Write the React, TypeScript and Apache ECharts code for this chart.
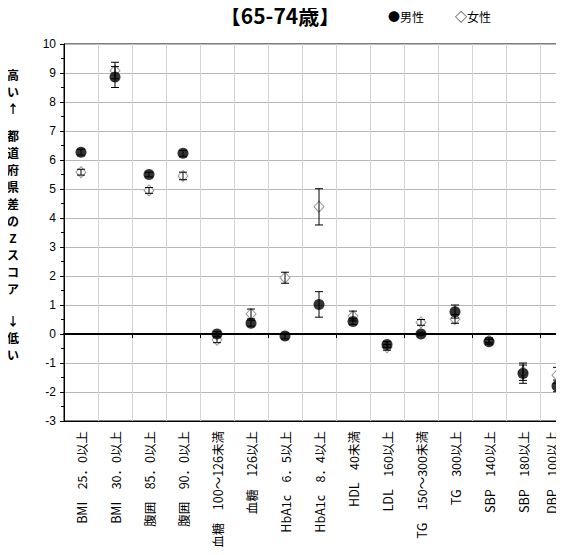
import React, { useEffect, useRef } from "react";
import * as echarts from "echarts";

const categories = [
  "BMI　25．0以上",
  "BMI　30．0以上",
  "腹囲　85．0以上",
  "腹囲　90．0以上",
  "血糖　100～126未満",
  "血糖　126以上",
  "HbA1c　6．5以上",
  "HbA1c　8．4以上",
  "HDL　40未満",
  "LDL　160以上",
  "TG　150～300未満",
  "TG　300以上",
  "SBP　140以上",
  "SBP　180以上",
  "DBP　100以上",
];

const maleValues = [6.27, 8.86, 5.5, 6.23, 0.0, 0.37, -0.07, 1.02, 0.43, -0.36, 0.0, 0.77, -0.27, -1.36, -1.79];
const maleLow = [6.17, 8.5, 5.42, 6.13, -0.08, 0.27, -0.17, 0.58, 0.33, -0.46, -0.06, 0.55, -0.35, -1.7, -1.99];
const maleHigh = [6.37, 9.22, 5.58, 6.33, 0.08, 0.47, 0.03, 1.46, 0.53, -0.26, 0.06, 1.0, -0.19, -1.07, -1.59];

const femaleValues = [5.58, 9.08, 4.95, 5.45, -0.2, 0.69, 1.94, 4.39, 0.62, -0.46, 0.4, 0.52, -0.22, -1.3, -1.42];
const femaleLow = [5.48, 8.8, 4.85, 5.32, -0.3, 0.52, 1.75, 3.76, 0.45, -0.56, 0.3, 0.37, -0.3, -1.6, -1.7];
const femaleHigh = [5.68, 9.37, 5.05, 5.58, -0.1, 0.86, 2.13, 5.01, 0.79, -0.36, 0.5, 0.67, -0.14, -1.0, -1.15];

const yMin = -3;
const yMax = 10;

const titleText = "【65-74歳】";
const maleLegend = "●男性";
const femaleLegend = "◇女性";
const yNameTop = "高\nい\n↑";
const yNameMid = "都\n道\n府\n県\n差\nの\nZ\nス\nコ\nア";
const yNameBottom = "↓\n低\nい";

const errorRender = (params: any, api: any) => {
  const x = api.value(0);
  const lo = api.coord([x, api.value(1)]);
  const hi = api.coord([x, api.value(2)]);
  const cap = 4;
  const style = { stroke: "#000", lineWidth: 1 };
  return {
    type: "group",
    children: [
      { type: "line", shape: { x1: lo[0], y1: lo[1], x2: hi[0], y2: hi[1] }, style },
      { type: "line", shape: { x1: lo[0] - cap, y1: lo[1], x2: lo[0] + cap, y2: lo[1] }, style },
      { type: "line", shape: { x1: hi[0] - cap, y1: hi[1], x2: hi[0] + cap, y2: hi[1] }, style },
    ],
  };
};

export default function App() {
  const ref = useRef<HTMLDivElement>(null);
  useEffect(() => {
    if (!ref.current) return;
    const chart = echarts.init(ref.current, null, { renderer: "svg" });
    const cjk = "'Noto Sans CJK JP', sans-serif";
    const lastIdx = categories.length - 1;
    const catData = categories.map((c, i) =>
      i === lastIdx ? { value: c, textStyle: { verticalAlign: "bottom" } } : c
    );
    chart.setOption({
      animation: false,
      backgroundColor: "#fff",
      grid: {
        left: 64,
        top: 44,
        width: 510,
        height: 377,
        outerBoundsMode: "none",
        containLabel: false,
        show: true,
        borderColor: "#000",
        borderWidth: 1,
        backgroundColor: "transparent",
      },
      graphic: [
        {
          type: "text",
          x: 280,
          y: 15,
          style: {
            text: titleText,
            font: "bold 21px " + cjk,
            fill: "#000",
            textAlign: "center",
            textVerticalAlign: "middle",
          },
        },
        {
          type: "text",
          x: 388,
          y: 16,
          style: { text: maleLegend, font: "12px " + cjk, fill: "#000", textVerticalAlign: "middle" },
        },
        {
          type: "text",
          x: 455,
          y: 16,
          style: { text: femaleLegend, font: "12px " + cjk, fill: "#000", textVerticalAlign: "middle" },
        },
        {
          type: "text",
          x: 13,
          y: 66,
          style: { text: yNameTop, font: "bold 12px " + cjk, lineHeight: 17, fill: "#000", textAlign: "center" },
        },
        {
          type: "text",
          x: 13,
          y: 127,
          style: { text: yNameMid, font: "bold 12px " + cjk, lineHeight: 17, fill: "#000", textAlign: "center" },
        },
        {
          type: "text",
          x: 13,
          y: 312,
          style: { text: yNameBottom, font: "bold 12px " + cjk, lineHeight: 17, fill: "#000", textAlign: "center" },
        },
      ],
      xAxis: [
        {
          type: "category",
          data: catData,
          position: "bottom",
          axisLine: { onZero: false, lineStyle: { color: "#000", width: 1 } },
          axisTick: { show: false },
          axisLabel: {
            interval: 0,
            rotate: 90,
            margin: 10,
            fontSize: 12.5,
            lineHeight: 12,
            fontFamily: cjk,
            color: "#000",
          },
          splitLine: { show: true, interval: 0, lineStyle: { color: "#d4d4d4", width: 1 } },
        },
        {
          type: "category",
          data: categories,
          position: "bottom",
          axisLine: { onZero: true, lineStyle: { color: "#000", width: 2 } },
          axisTick: { show: true, interval: 1, length: 4, lineStyle: { color: "#000", width: 1 } },
          axisLabel: { show: false },
          splitLine: { show: false },
        },
      ],
      yAxis: {
        type: "value",
        min: yMin,
        max: yMax,
        interval: 1,
        axisLine: { show: true, lineStyle: { color: "#000", width: 1 } },
        axisTick: { show: true, length: 4, lineStyle: { color: "#000" } },
        minorTick: { show: true, splitNumber: 2, length: 3, lineStyle: { color: "#000" } },
        axisLabel: { margin: 8, fontSize: 12, fontFamily: "'Liberation Sans', Arial, sans-serif", color: "#000" },
        splitLine: { show: true, lineStyle: { color: "#b8b8b8", width: 1 } },
      },
      series: [
        {
          name: "女性",
          type: "scatter",
          xAxisIndex: 0,
          symbol: "diamond",
          symbolSize: [10, 11],
          itemStyle: { color: "#fff", borderColor: "#7f7f7f", borderWidth: 1 },
          data: femaleValues.map((v, i) => [i, v]),
          z: 2,
        },
        {
          name: "女性誤差",
          type: "custom",
          xAxisIndex: 0,
          renderItem: errorRender,
          data: femaleLow.map((lo, i) => [i, lo, femaleHigh[i]]),
          z: 3,
        },
        {
          name: "男性",
          type: "scatter",
          xAxisIndex: 0,
          symbol: "circle",
          symbolSize: 11,
          itemStyle: { color: "#000" },
          data: maleValues.map((v, i) => [i, v]),
          z: 4,
        },
        {
          name: "男性誤差",
          type: "custom",
          xAxisIndex: 0,
          renderItem: errorRender,
          data: maleLow.map((lo, i) => [i, lo, maleHigh[i]]),
          z: 5,
        },
      ],
    });
    return () => chart.dispose();
  }, []);
  return <div ref={ref} style={{ width: 564, height: 555, margin: -8 }} />;
}
